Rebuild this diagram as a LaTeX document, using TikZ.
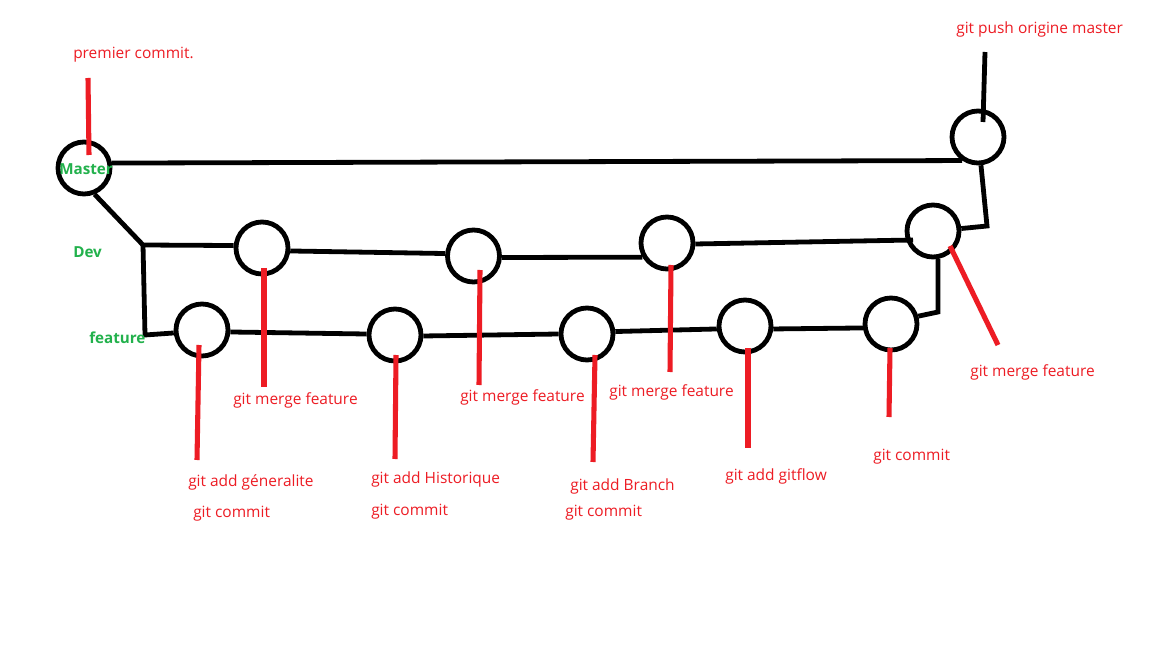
\documentclass[tikz,border=0pt]{standalone}
\usepackage{fontspec}
\setmainfont{Open Sans}
\usetikzlibrary{calc}
\definecolor{pred}{RGB}{237,28,36}
\definecolor{pgreen}{RGB}{34,177,76}
\tikzset{
  commitnode/.style={circle, draw=black, line width=3.6pt, minimum size=39pt, inner sep=0pt},
  branch/.style={draw=black, line width=3.6pt, line join=miter},
  redline/.style={draw=pred, line width=3.8pt},
  redlabel/.style={text=pred, anchor=base west, inner sep=0pt, font=\fontsize{11.6}{13}\selectfont},
  greenlabel/.style={text=pgreen, anchor=base west, inner sep=0pt, font=\fontsize{11.4}{13}\selectfont\bfseries},
}
\begin{document}
\begin{tikzpicture}[x=0.75pt,y=-0.75pt]
\useasboundingbox (0,0) rectangle (1152,648);
\fill[white] (0,0) rectangle (1152,648);

% commits
\node[commitnode] (m)  at (84,168) {};
\node[commitnode] (t)  at (978,137) {};
\node[commitnode] (c1) at (262,248) {};
\node[commitnode] (c2) at (473.5,256) {};
\node[commitnode] (c3) at (667,243) {};
\node[commitnode] (c4) at (933,231) {};
\node[commitnode] (f1) at (202,330) {};
\node[commitnode] (f2) at (395,335) {};
\node[commitnode] (f3) at (587,334) {};
\node[commitnode] (f4) at (745,326) {};
\node[commitnode] (f5) at (891,324) {};

% corner coordinates
\coordinate (dv) at (143,245);
\coordinate (fv) at (145,335);
\coordinate (k1) at (987,226);
\coordinate (k2) at (938,312);
\coordinate (push) at (985,52);

% branches
\draw[branch] (m.10) -- (t.236);
\draw[branch] (m.-68) -- (dv) -- (c1.175);
\draw[branch] (dv) -- (fv) -- (f1.186);
\draw[branch] (c1.-6) -- (c2.175);
\draw[branch] (c2.-3) -- (c3.210);
\draw[branch] (c3.-2) -- ($(c4.center)+(-20,9)$);
\draw[branch] (c4.5) -- (k1) -- (t.-84);
\draw[branch] (c4.-80) -- (k2) -- (f5.16);
\draw[branch] (f1.-4) -- (f2.178);
\draw[branch] (f2.-2) -- (f3.180);
\draw[branch] (f3.5) -- (f4.186);
\draw[branch] (f4.-6) -- (f5.188);
\draw[branch] (push) -- ($(t.center)+(5,-15)$);

% red markers
\coordinate (r0) at (88,78);
\coordinate (r1) at (264,387);
\coordinate (r2) at (479,385);
\coordinate (r3) at (670,372);
\coordinate (r4) at (197,460);
\coordinate (r5) at (395,459);
\coordinate (r6) at (593,462);
\coordinate (r7) at (748,448);
\coordinate (r8) at (889,417);
\coordinate (r9) at (998,345);
\draw[redline] (r0) -- ($(m.center)+(5,-13)$);
\draw[redline] ($(c1.center)+(2,20)$) -- (r1);
\draw[redline] ($(c2.center)+(6.5,14)$) -- (r2);
\draw[redline] ($(c3.center)+(4,22)$) -- (r3);
\draw[redline] ($(f1.center)+(-3,15)$) -- (r4);
\draw[redline] ($(f2.center)+(1,20)$) -- (r5);
\draw[redline] ($(f3.center)+(8,21)$) -- (r6);
\draw[redline] ($(f4.center)+(3,22)$) -- (r7);
\draw[redline] ($(f5.center)+(-1,24)$) -- (r8);
\draw[redline] ($(c4.center)+(17,15)$) -- (r9);

% labels
\node[redlabel] (lpc) at (73,59) {premier commit.};
\node[redlabel] (lpush) at (956,34) {git push origine master};
\node[redlabel] (lm1) at (233,404) {git merge feature};
\node[redlabel] (lm2) at (460,401) {git merge feature};
\node[redlabel] (lm3) at (609,396) {git merge feature};
\node[redlabel] (lm4) at (970,376) {git merge feature};
\node[redlabel] (la1) at (188,486) {git add géneralite};
\node[redlabel] (lc1) at (193,517) {git commit};
\node[redlabel] (la2) at (371,483) {git add Historique};
\node[redlabel] (lc2) at (371,515) {git commit};
\node[redlabel] (la3) at (570,490) {git add Branch};
\node[redlabel] (lc3) at (565,516) {git commit};
\node[redlabel] (la4) at (725,480) {git add gitflow};
\node[redlabel] (lc5) at (873,460) {git commit};

\node[greenlabel] (gm) at (59,175) {Master};
\node[greenlabel] (gd) at (73,258) {Dev};
\node[greenlabel] (gf) at (89,344) {feature};
\end{tikzpicture}
\end{document}
